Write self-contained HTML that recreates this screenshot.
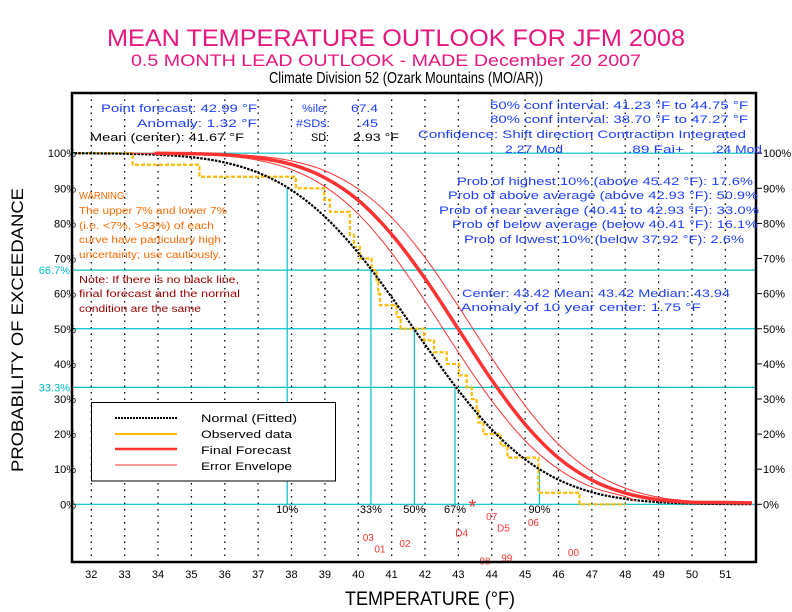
<!DOCTYPE html>
<html><head><meta charset="utf-8"><style>
body{margin:0;background:#fff;}
svg{display:block;font-family:"Liberation Sans",sans-serif;}
</style></head><body>
<svg id="chart" width="792" height="612" viewBox="0 0 792 612" xmlns="http://www.w3.org/2000/svg">
<rect width="792" height="612" fill="#fff"/>
<g id="titles">
<text x="396" y="46" text-anchor="middle" font-size="24" fill="#e8177d" textLength="578" lengthAdjust="spacingAndGlyphs">MEAN TEMPERATURE OUTLOOK FOR JFM 2008</text>
<text x="386" y="66" text-anchor="middle" font-size="17" fill="#e8177d" textLength="510" lengthAdjust="spacingAndGlyphs">0.5 MONTH LEAD OUTLOOK - MADE December 20 2007</text>
<text x="406" y="83" text-anchor="middle" font-size="16" fill="#000" textLength="274" lengthAdjust="spacingAndGlyphs">Climate Division 52 (Ozark Mountains (MO/AR))</text>
</g>
<g id="grid"></g>
<g id="series"></g>
<g id="axes"></g>
<g id="info" font-size="11">
<text x="101" y="112" fill="#1f3fff" textLength="156" lengthAdjust="spacingAndGlyphs">Point forecast: 42.99 °F</text>
<text x="137" y="127" fill="#1f3fff" textLength="120" lengthAdjust="spacingAndGlyphs">Anomaly:   1.32 °F</text>
<text x="90" y="141" fill="#000" textLength="154" lengthAdjust="spacingAndGlyphs">Mean (center): 41.67 °F</text>
<text x="302" y="112" fill="#1f3fff" textLength="26" lengthAdjust="spacingAndGlyphs">%ile:</text>
<text x="351" y="112" fill="#1f3fff" textLength="27" lengthAdjust="spacingAndGlyphs">67.4</text>
<text x="296" y="127" fill="#1f3fff" textLength="34" lengthAdjust="spacingAndGlyphs">#SDs:</text>
<text x="358" y="127" fill="#1f3fff" textLength="20" lengthAdjust="spacingAndGlyphs">.45</text>
<text x="311" y="141" fill="#000" textLength="18" lengthAdjust="spacingAndGlyphs">SD:</text>
<text x="353" y="141" fill="#000" textLength="46" lengthAdjust="spacingAndGlyphs">2.93 °F</text>
<text x="490" y="109" fill="#1f3fff" textLength="258" lengthAdjust="spacingAndGlyphs">50% conf interval: 41.23 °F to 44.75 °F</text>
<text x="490" y="123" fill="#1f3fff" textLength="258" lengthAdjust="spacingAndGlyphs">80% conf interval: 38.70 °F to 47.27 °F</text>
<text x="418" y="138" fill="#1f3fff" textLength="328" lengthAdjust="spacingAndGlyphs">Confidence: Shift direction  Contraction  Integrated</text>
<text x="505" y="153" fill="#1f3fff" textLength="58" lengthAdjust="spacingAndGlyphs">2.27 Mod</text>
<text x="628" y="153" fill="#1f3fff" textLength="56" lengthAdjust="spacingAndGlyphs">.89 Fai+</text>
<text x="712" y="153" fill="#1f3fff" textLength="50" lengthAdjust="spacingAndGlyphs">.24 Mod</text>
<text x="457" y="185" fill="#1f3fff" textLength="296" lengthAdjust="spacingAndGlyphs">Prob of highest 10% (above 45.42 °F): 17.6%</text>
<text x="448" y="199" fill="#1f3fff" textLength="310" lengthAdjust="spacingAndGlyphs">Prob of above average (above 42.93 °F): 50.9%</text>
<text x="439" y="214" fill="#1f3fff" textLength="320" lengthAdjust="spacingAndGlyphs">Prob of near average (40.41 to 42.93 °F): 33.0%</text>
<text x="452" y="228" fill="#1f3fff" textLength="306" lengthAdjust="spacingAndGlyphs">Prob of below average (below 40.41 °F): 16.1%</text>
<text x="464" y="243" fill="#1f3fff" textLength="280" lengthAdjust="spacingAndGlyphs">Prob of lowest 10% (below 37.92 °F): 2.6%</text>
<text x="462" y="297" fill="#1f3fff" textLength="268" lengthAdjust="spacingAndGlyphs">Center: 43.42 Mean: 43.42 Median: 43.94</text>
<text x="461" y="311" fill="#1f3fff" textLength="240" lengthAdjust="spacingAndGlyphs">Anomaly of 10 year center:  1.75 °F</text>
</g>
<g id="warning" font-size="10" fill="#ff6a00">
<text x="79" y="199" textLength="48" lengthAdjust="spacingAndGlyphs">WARNING:</text>
<text x="79" y="214" textLength="148" lengthAdjust="spacingAndGlyphs">The upper 7% and lower 7%</text>
<text x="79" y="229" textLength="135" lengthAdjust="spacingAndGlyphs">(i.e. &lt;7%, &gt;93%) of each</text>
<text x="79" y="243" textLength="142" lengthAdjust="spacingAndGlyphs">curve have particulary high</text>
<text x="79" y="258" textLength="142" lengthAdjust="spacingAndGlyphs">uncertainty; use cautiously.</text>
</g>
<g id="note" font-size="10" fill="#990000">
<text x="79" y="283" textLength="160" lengthAdjust="spacingAndGlyphs">Note: If there is no black line,</text>
<text x="79" y="297" textLength="161" lengthAdjust="spacingAndGlyphs">final forecast and  the normal</text>
<text x="79" y="312" textLength="122" lengthAdjust="spacingAndGlyphs">condition are the same</text>
</g>
<g id="legend">
<rect x="91.5" y="402.5" width="244" height="78.5" fill="#fff" stroke="#000" stroke-width="1"/>
<line x1="115" y1="418" x2="177" y2="418" stroke="#000" stroke-width="2" stroke-dasharray="2,1"/>
<line x1="115" y1="434" x2="177" y2="434" stroke="#ffbb00" stroke-width="2"/>
<line x1="115" y1="449" x2="177" y2="449" stroke="#ff3333" stroke-width="2.5"/>
<line x1="115" y1="465" x2="177" y2="465" stroke="#ff3333" stroke-width="1"/>
<g font-size="11" fill="#000">
<text x="201" y="422" textLength="96" lengthAdjust="spacingAndGlyphs">Normal (Fitted)</text>
<text x="201" y="438" textLength="91" lengthAdjust="spacingAndGlyphs">Observed data</text>
<text x="201" y="454" textLength="90" lengthAdjust="spacingAndGlyphs">Final Forecast</text>
<text x="201" y="470" textLength="91" lengthAdjust="spacingAndGlyphs">Error Envelope</text>
</g>
</g>
<text transform="translate(23,330) rotate(-90)" text-anchor="middle" font-size="17" fill="#000" textLength="284" lengthAdjust="spacingAndGlyphs">PROBABILITY OF EXCEEDANCE</text>
<text x="430" y="605" text-anchor="middle" font-size="19" fill="#000" textLength="170" lengthAdjust="spacingAndGlyphs">TEMPERATURE (°F)</text>
</svg>
<script>
// ---- data ----
const tempTicks = [32,33,34,35,36,37,38,39,40,41,42,43,44,45,46,47,48,49,50,51];
const yTicks = [0,10,20,30,40,50,60,70,80,90,100];
const refLines = [0,33.3,50,66.7,100];
const normalT = [31.5,32,33,34,35,36,37,38,39,40,41,42,43,44,45,46,47,48,49,50,51,51.8];
const normalP = [100,99.95,99.85,99.55,98.87,97.35,94.45,89.5,81.9,71.6,59.0,45.5,32.5,21.3,12.8,7.0,3.45,1.54,0.62,0.22,0.07,0.03];
const forecastT = [33.9,34,35,36,37,38,39,40,41,42,43,44,45,46,47,48,49,50,51,51.8];
const forecastP = [100,99.96,99.85,99.52,98.68,96.8,93.0,86.6,76.9,64.3,49.9,35.4,22.8,13.2,6.9,3.2,1.3,0.6,0.5,0.4];
const envLowT = [33.2,34,35,36,37,38,39,40,41,42,43,44,45,46,47,48,48.3];
const envLowP = [100,99.92,99.74,99.22,97.98,95.35,90.5,82.7,71.6,57.9,43.3,29.5,18.1,10.0,4.9,2.2,1.0];
const envHighT = [35.2,36,37,38,39,40,41,42,43,44,45,46,47,48,49,50,51,51.8];
const envHighP = [100,99.71,99.15,97.8,95.0,89.8,81.7,70.3,56.4,41.7,28.1,17.1,9.3,4.6,2.0,0.9,0.6,0.5];
const obsT = [31.5,33.24,35.24,38.13,38.98,39.15,39.75,39.87,40.05,40.4,40.55,40.6,40.65,41.15,41.27,41.97,42.27,42.65,43.02,43.25,43.4,43.55,43.6,43.75,44.27,44.47,45.4,46.63];
const obsP = [100,96.7,93.3,90,86.7,83.3,76.7,73.3,70,66.7,63.3,60,56.7,53.3,50,46.7,43.3,40,36.7,33.3,30,26.7,23.3,20,16.7,13.3,3.3,0];
const obsEnd = 48.0;
const quantT = [37.87,40.38,41.68,42.9,45.43];
const quantP = [90,66.7,50,33.3,10];
const quantLabels = ["10%","33%","50%","67%","90%"];
const yearLabels = ["03","01","02","D4","07","D5","06","00","99","98"];
const yearT = [40.3,40.65,41.4,43.1,44.0,44.35,45.25,46.45,44.45,43.8];
const yearRow = [0.48,0.67,0.58,0.4,0.13,0.32,0.23,0.73,0.82,0.87];
const starT = 43.42;

// ---- axes ----
const NS='http://www.w3.org/2000/svg';
const X0=91.3, XS=33.37, Y0=504.3, YS=3.511;
const L=72, R=756, T=93, B=562;
const xs=t=>X0+(t-32)*XS;
const ys=p=>Y0-p*YS;
function mk(tag,attrs,parent){const e=document.createElementNS(NS,tag);for(const k in attrs)e.setAttribute(k,attrs[k]);parent.appendChild(e);return e;}
const grid=document.getElementById('grid'), ser=document.getElementById('series'), ax=document.getElementById('axes');

tempTicks.forEach(t=>{
  const g=mk('line',{x1:xs(t),x2:xs(t),y1:T,y2:B,stroke:'#000','stroke-width':1.3,'stroke-dasharray':'1.5,5'},grid);
  
  
  const lb=mk('text',{x:xs(t),y:578,'text-anchor':'middle','font-size':11,fill:'#000'},ax);
  lb.textContent=t;
  
  
});
refLines.forEach(p=>{
  const h=mk('line',{x1:L,x2:R,y1:ys(p),y2:ys(p),stroke:'#00c0c8','stroke-width':1.2},grid);
  
  
});
[[66.7,'66.7%'],[33.3,'33.3%']].forEach(([p,s])=>{
  const t=mk('text',{x:70,y:ys(p)+4,'text-anchor':'end','font-size':11,fill:'#00c0c8'},ax);
  t.textContent=s;
  
  
});
yTicks.forEach(p=>{
  const a=mk('text',{x:76,y:ys(p)+4,'text-anchor':'end','font-size':11,fill:'#000'},ax);
  a.textContent=p+'%';
  
  
  mk('line',{x1:R,x2:R+6,y1:ys(p),y2:ys(p),stroke:'#000','stroke-width':1},ax);
  const b=mk('text',{x:R+7,y:ys(p)+4,'font-size':11,fill:'#000'},ax);
  b.textContent=p+'%';
  
  
});
quantT.forEach((t,i)=>{
  const l=mk('line',{x1:xs(t),x2:xs(t),y1:ys(0),y2:ys(quantP[i]),stroke:'#00c0c8','stroke-width':1.2},grid);
  
  
  const tx=mk('text',{x:xs(t),y:513,'text-anchor':'middle','font-size':11,fill:'#000'},ax);
  tx.textContent=quantLabels[i];
  
  
});
function smooth(T,P){
  const pts=T.map((t,i)=>[xs(t),ys(P[i])]);
  let d='M'+pts[0][0]+','+pts[0][1];
  for(let i=0;i<pts.length-1;i++){
    const p0=pts[Math.max(0,i-1)],p1=pts[i],p2=pts[i+1],p3=pts[Math.min(pts.length-1,i+2)];
    const c1=[p1[0]+(p2[0]-p0[0])/6,p1[1]+(p2[1]-p0[1])/6];
    const c2=[p2[0]-(p3[0]-p1[0])/6,p2[1]-(p3[1]-p1[1])/6];
    d+=' C'+c1.join(',')+' '+c2.join(',')+' '+p2.join(',');
  }
  return d;
}
let od='M'+xs(obsT[0])+','+ys(obsP[0]);
for(let i=1;i<obsT.length;i++){od+=' L'+xs(obsT[i])+','+ys(obsP[i-1])+' L'+xs(obsT[i])+','+ys(obsP[i]);}
od+=' L'+xs(obsEnd)+','+ys(obsP[obsP.length-1]);
const obs=mk('path',{d:od,fill:'none',stroke:'#ffbb00','stroke-width':2.2,'stroke-dasharray':'4,2'},ser);


const nrm=mk('path',{d:smooth(normalT,normalP),fill:'none',stroke:'#000','stroke-width':2.2,'stroke-dasharray':'2.5,1.2'},ser);


const el=mk('path',{d:smooth(envLowT,envLowP),fill:'none',stroke:'#ff3333','stroke-width':1},ser);


const eh=mk('path',{d:smooth(envHighT,envHighP),fill:'none',stroke:'#ff3333','stroke-width':1},ser);


const fc=mk('path',{d:smooth(forecastT,forecastP),fill:'none',stroke:'#ff3333','stroke-width':3.5},ser);


yearLabels.forEach((s,i)=>{
  const t=mk('text',{x:xs(yearT[i]),y:ys(0)+8+yearRow[i]*60,'text-anchor':'middle','font-size':10,fill:'#ff3333'},ser);
  t.textContent=s;
  
  
});
const st=mk('text',{x:xs(starT),y:ys(0)+9,'text-anchor':'middle','font-size':20,fill:'#ff3333'},ser);
st.textContent='*';


const fr=mk('rect',{x:L,y:T,width:R-L,height:B-T,fill:'none',stroke:'#000','stroke-width':2.5},ax);


</script>
</body></html>
